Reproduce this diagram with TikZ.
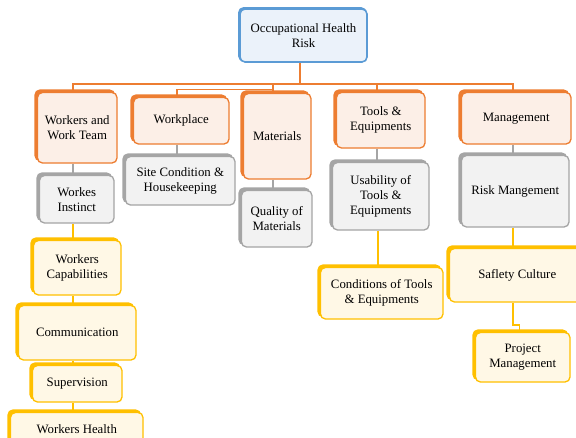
\documentclass[tikz,border=0pt]{standalone}
\usepackage{fontspec}
\setmainfont{Liberation Serif}
\usetikzlibrary{shadows,backgrounds}
\definecolor{oB}{HTML}{ED7D31}
\definecolor{oF}{HTML}{FCEFE7}
\definecolor{gB}{HTML}{A5A5A5}
\definecolor{gF}{HTML}{F2F2F2}
\definecolor{yB}{HTML}{FFC000}
\definecolor{yF}{HTML}{FFF8E6}
\definecolor{bB}{HTML}{5B9BD5}
\definecolor{bF}{HTML}{EBF2FA}
\tikzset{
  box/.style={rectangle, rounded corners=5pt, line width=1.3pt, align=center, inner sep=2pt,
    font=\fontsize{12.8}{15}\selectfont},
  obox/.style={box, draw=oB, fill=oF,
    copy shadow={shadow xshift=-2.5pt, shadow yshift=2.5pt, draw=oB, fill=oB, opacity=1}},
  gbox/.style={box, draw=gB, fill=gF,
    copy shadow={shadow xshift=-2.5pt, shadow yshift=2.5pt, draw=gB, fill=gB, opacity=1}},
  ybox/.style={box, draw=yB, fill=yF,
    copy shadow={shadow xshift=-2.5pt, shadow yshift=2.5pt, draw=yB, fill=yB, opacity=1}},
  bbox/.style={box, line width=1.6pt, draw=bB, fill=bF,
    copy shadow={shadow xshift=-1.2pt, shadow yshift=1.2pt, draw=bB, fill=bB, opacity=1}},
  oline/.style={draw=oB, line width=1.1pt},
  gline/.style={draw=gB, line width=1.1pt},
  yline/.style={draw=yB, line width=1.1pt},
}
\begin{document}
\begin{tikzpicture}[x=1pt, y=-1pt]
\path[use as bounding box, clip] (0,0) rectangle (576,437);

\node[bbox, minimum width=127pt, minimum height=53pt] (top) at (303.5,35.5) {Occupational Health\\Risk};

\node[obox, minimum width=79.5pt, minimum height=70.5pt] (workers) at (77.25,127.75) {Workers and\\Work Team};
\node[obox, minimum width=95.5pt, minimum height=46.5pt] (workplace) at (181.25,120.75) {Workplace};
\node[obox, minimum width=67.5pt, minimum height=85.5pt] (materials) at (277.25,136.25) {Materials};
\node[obox, minimum width=88.5pt, minimum height=55.5pt] (tools) at (380.75,120.25) {Tools \&\\Equipments};
\node[obox, minimum width=109.5pt, minimum height=51.5pt] (management) at (516.25,118.25) {Management};

\node[gbox, minimum width=74.5pt, minimum height=47.5pt] (instinct) at (76.75,199.25) {Workes\\Instinct};
\node[gbox, minimum width=109.5pt, minimum height=48.5pt] (site) at (180.25,180.75) {Site Condition \&\\Housekeeping};
\node[gbox, minimum width=70.5pt, minimum height=56.5pt] (quality) at (276.75,218.75) {Quality of\\Materials};
\node[gbox, minimum width=96.5pt, minimum height=67.5pt] (usability) at (380.75,196.25) {Usability of\\Tools \&\\Equipments};
\node[gbox, minimum width=107.5pt, minimum height=71.5pt] (riskm) at (515.25,191.25) {Risk Mangement};

\node[ybox, minimum width=87.5pt, minimum height=54.5pt] (capab) at (77.25,267.75) {Workers\\Capabilities};
\node[ybox, minimum width=117.5pt, minimum height=54.5pt] (comm) at (77.25,332.75) {Communication};
\node[ybox, minimum width=89.5pt, minimum height=36.5pt] (superv) at (77.25,383.75) {Supervision};
\node[ybox, minimum width=132.5pt, minimum height=33pt] (health) at (76.75,429) {Workers Health};
\node[ybox, minimum width=122.5pt, minimum height=51.5pt] (conditions) at (381.75,293.25) {Conditions of Tools\\\& Equipments};
\node[ybox, minimum width=135.5pt, minimum height=53.5pt] (saflety) at (517.25,275.25) {Saflety Culture};
\node[ybox, minimum width=94.5pt, minimum height=49.5pt] (project) at (522.75,357.25) {Project\\Management};

\coordinate (j0) at (300,84);
\coordinate (busL) at (73,84);
\coordinate (busR) at (513,84);
\coordinate (j1) at (273,84);
\coordinate (j2) at (273,89.5);
\coordinate (j3) at (177,89.5);
\coordinate (j4) at (377,84);
\coordinate (k1) at (513,325);
\coordinate (k2) at (519.5,325);
\coordinate (cx) at (378,0);
\coordinate (wx) at (73,0);

\begin{scope}[on background layer]
\fill[white] (0,0) rectangle (576,437);
\draw[oline] (top.south -| j0) -- (j0);
\draw[oline] (busL |- workers.north) -- (busL) -- (busR) -- (busR |- management.north);
\draw[oline] (j1) -- (j1 |- materials.north);
\draw[oline] (j2) -- (j3) -- (j3 |- workplace.north);
\draw[oline] (j4) -- (j4 |- tools.north);

\draw[gline] (workers.south -| wx) -- (instinct.north -| wx);
\draw[gline] (workplace.south -| j3) -- (site.north -| j3);
\draw[gline] (materials.south -| j1) -- (quality.north -| j1);
\draw[gline] (tools.south -| j4) -- (usability.north -| j4);
\draw[gline] (management.south -| busR) -- (riskm.north -| busR);

\draw[yline] (instinct.south -| wx) -- (capab.north -| wx);
\draw[yline] (capab.south -| wx) -- (comm.north -| wx);
\draw[yline] (comm.south -| wx) -- (superv.north -| wx);
\draw[yline] (superv.south -| wx) -- (health.north -| wx);
\draw[yline] (usability.south -| cx) -- (conditions.north -| cx);
\draw[yline] (riskm.south -| busR) -- (saflety.north -| busR);
\draw[yline] (saflety.south -| k1) -- (k1) -- (k2) -- (project.north -| k2);
\end{scope}
\end{tikzpicture}
\end{document}
